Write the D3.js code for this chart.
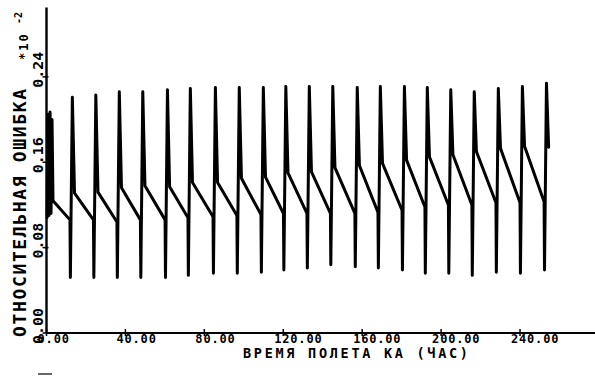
<!DOCTYPE html>
<html>
<head>
<meta charset="utf-8">
<script src="https://cdn.jsdelivr.net/npm/d3@7"></script>
<style>
  body { margin: 0; background: #fff; }
  svg { display: block; }
  text { font-family: "DejaVu Sans Mono", monospace; font-weight: bold; fill: #000; }
</style>
</head>
<body>
<div id="chart"></div>
<script>
// values (relative error, x10^-2)
var initT = [0.3, 0.8, 1.3, 1.8, 2.3, 2.8, 3.3];
var initV = [0.108, 0.205, 0.110, 0.207, 0.112, 0.200, 0.124];

// time of each correction spike (hours)
var spikeT = [11.9, 23.8, 35.7, 47.6, 60.1, 71.7, 84.4, 96.5, 108.7, 120.1, 132.0,
              143.9, 156.3, 168.0, 180.2, 191.8, 203.7, 215.6, 227.8, 240.0, 252.2];
// value at the end of the slow descent, just before the spike
var troughV = [0.106, 0.106, 0.104, 0.106, 0.106, 0.108, 0.109, 0.110, 0.111, 0.112, 0.112,
               0.112, 0.112, 0.113, 0.115, 0.118, 0.120, 0.120, 0.122, 0.122, 0.123];
// lowest point of the spike
var dipV = [0.052, 0.052, 0.052, 0.052, 0.052, 0.054, 0.056, 0.056, 0.057, 0.059, 0.061,
            0.064, 0.062, 0.061, 0.059, 0.056, 0.056, 0.054, 0.057, 0.056, 0.059];
// highest point of the spike
var peakV = [0.221, 0.223, 0.226, 0.226, 0.228, 0.229, 0.230, 0.230, 0.230, 0.231, 0.231,
             0.231, 0.230, 0.231, 0.231, 0.230, 0.228, 0.226, 0.229, 0.231, 0.234];
// level where the descent starts after the spike
var shoulderV = [0.131, 0.132, 0.136, 0.138, 0.137, 0.141, 0.141, 0.145, 0.146, 0.150, 0.151,
                 0.155, 0.157, 0.159, 0.162, 0.165, 0.167, 0.170, 0.173, 0.175, 0.174];

var xTicks = [0, 40, 80, 120, 160, 200, 240];
var yTicks = [0, 0.08, 0.16, 0.24];

// spike shape offsets (hours after the trough)
var dipOff = 0.2, peakOff = 1.2, shoulderOff = 2.3;

function init() {
    var w = 595, h = 378;

    var svg = d3.select("#chart").append("svg")
        .attr("width", w)
        .attr("height", h);

    var x = d3.scaleLinear().domain([0, 278]).range([46.5, 595]);
    var y = d3.scaleLinear().domain([0, 0.305]).range([333, 7.5]);

    // build the line
    var pts = initT.map(function(t, i) { return [t, initV[i]]; });
    spikeT.forEach(function(t, i) {
        pts.push([t, troughV[i]]);
        pts.push([t + dipOff, dipV[i]]);
        pts.push([t + peakOff, peakV[i]]);
        pts.push([t + shoulderOff, shoulderV[i]]);
    });

    var line = d3.line()
        .x(function(d) { return x(d[0]); })
        .y(function(d) { return y(d[1]); });

    svg.append("path")
        .datum(pts)
        .attr("d", line)
        .attr("fill", "none")
        .attr("stroke", "#000")
        .attr("stroke-width", 3)
        .attr("stroke-linejoin", "round")
        .attr("stroke-linecap", "round");

    // axes lines
    svg.append("line")
        .attr("x1", x(0)).attr("x2", w)
        .attr("y1", y(0)).attr("y2", y(0))
        .attr("stroke", "#000").attr("stroke-width", 2);
    svg.append("line")
        .attr("x1", x(0)).attr("x2", x(0))
        .attr("y1", y(0)).attr("y2", y.range()[1])
        .attr("stroke", "#000").attr("stroke-width", 2.4);

    // x ticks + labels
    var xg = svg.append("g");
    xg.selectAll("line").data(xTicks).enter().append("line")
        .attr("x1", d => x(d)).attr("x2", d => x(d))
        .attr("y1", y(0) - 4).attr("y2", y(0) + 3)
        .attr("stroke", "#000").attr("stroke-width", 1.5);
    xg.selectAll("text").data(xTicks).enter().append("text")
        .attr("x", d => x(d) - 9)
        .attr("y", 343)
        .attr("font-size", 12)
        .attr("textLength", d => d.toFixed(2).length * 7.9)
        .text(d => d.toFixed(2));

    // y ticks + labels (rotated)
    var yg = svg.append("g");
    yg.selectAll("line").data(yTicks).enter().append("line")
        .attr("x1", x(0) - 4).attr("x2", x(0) + 2)
        .attr("y1", d => y(d)).attr("y2", d => y(d))
        .attr("stroke", "#000").attr("stroke-width", 1.5);
    yg.selectAll("text").data(yTicks).enter().append("text")
        .attr("transform", d => "translate(43," + (y(d) + 11) + ") rotate(-90)")
        .attr("font-size", 14)
        .attr("textLength", 36)
        .attr("lengthAdjust", "spacingAndGlyphs")
        .text(d => d.toFixed(2));

    // axis titles
    svg.append("text")
        .attr("x", 243).attr("y", 358)
        .attr("font-size", 13.5)
        .attr("textLength", 225)
        .text("ВРЕМЯ ПОЛЕТА КА (ЧАС)");

    svg.append("text")
        .attr("transform", "translate(26,337) rotate(-90)")
        .attr("font-size", 18)
        .attr("textLength", 248)
        .text("ОТНОСИТЕЛЬНАЯ ОШИБКА");

    svg.append("text")
        .attr("transform", "translate(28,60) rotate(-90)")
        .attr("font-size", 12)
        .attr("letter-spacing", 2)
        .text("*10");
    svg.append("text")
        .attr("transform", "translate(22,24) rotate(-90)")
        .attr("font-size", 10)
        .text("-2");

    // small scan mark
    svg.append("line")
        .attr("x1", 38).attr("x2", 52).attr("y1", 374).attr("y2", 374)
        .attr("stroke", "#000").attr("stroke-width", 1.2);
}

window.onload = init;
</script>
</body>
</html>
